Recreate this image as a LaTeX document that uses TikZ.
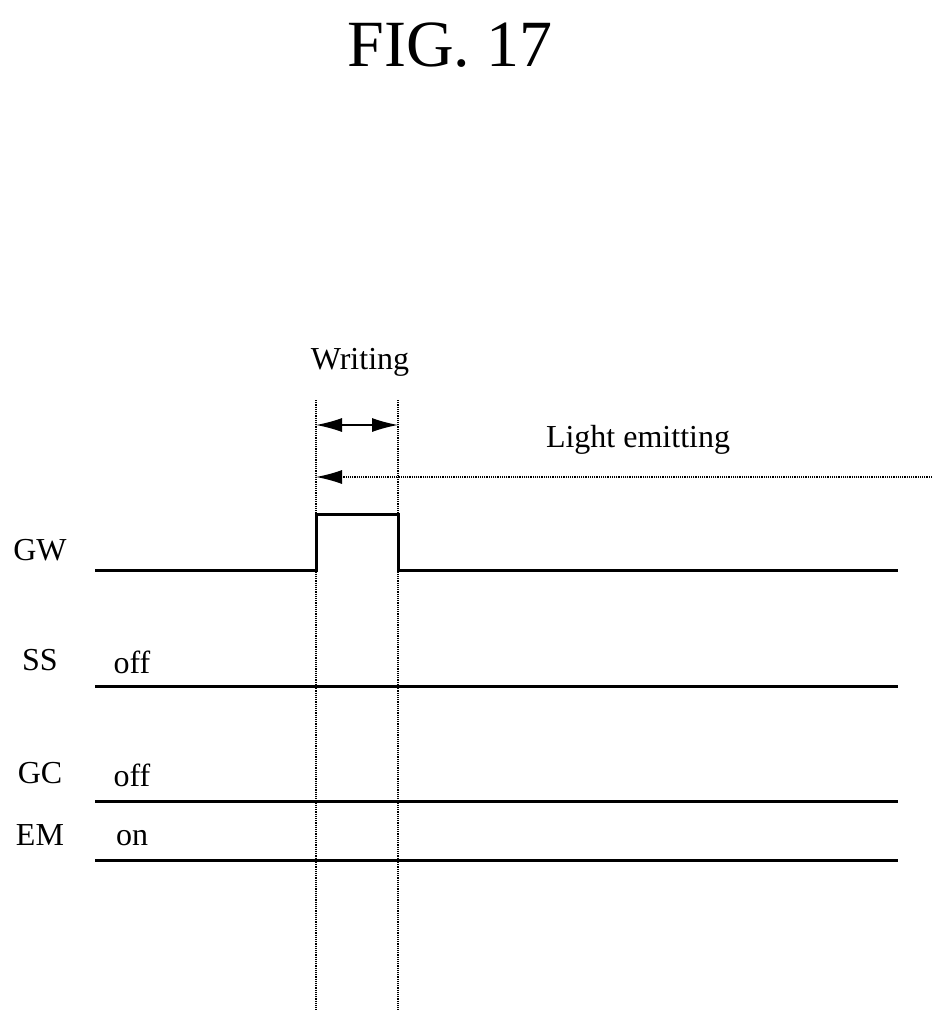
\documentclass[tikz,border=0pt]{standalone}
\usepackage{fontspec}
\setmainfont{Liberation Serif}
\usetikzlibrary{arrows.meta}
\begin{document}
\begin{tikzpicture}[x=1pt,y=-1pt,
  sig/.style={line width=3pt},
  guide/.style={densely dotted,line width=1.2pt},
  lbl/.style={font=\fontsize{32}{34}\selectfont,inner sep=0pt},
  arr/.style={-{Latex[length=26pt,width=14pt]}}]
\useasboundingbox (0,0) rectangle (952,1029);
\node[inner sep=0pt,font=\fontsize{66}{68}\selectfont] (title) at (450,45) {FIG. 17};
\coordinate (t1) at (316,400); \coordinate (b1) at (316,1010);
\coordinate (t2) at (398,400); \coordinate (b2) at (398,1010);
\draw[guide] (t1) -- (b1); \draw[guide] (t2) -- (b2);
\node[lbl] (wr) at (360,362) {Writing};
\coordinate (wm) at (357,425); \coordinate (wl) at (316,425); \coordinate (wr2) at (398,425);
\draw[arr,line width=1.2pt] (wm) -- (wl);
\draw[arr,line width=1.2pt] (wm) -- (wr2);
\node[lbl] (le) at (638,440) {Light emitting};
\coordinate (ls) at (932,477); \coordinate (le2) at (316,477);
\draw[arr,guide] (ls) -- (le2);
\node[lbl] (gw) at (40,550) {GW};
\draw[sig] (95,570) -- (316,570) -- (316,514) -- (398,514) -- (398,570) -- (898,570);
\node[lbl] (ss) at (40,660) {SS}; \node[lbl] (ssv) at (132,662) {off};
\draw[sig] (95,686) -- (898,686);
\node[lbl] (gc) at (40,773) {GC}; \node[lbl] (gcv) at (132,775) {off};
\draw[sig] (95,801) -- (898,801);
\node[lbl] (em) at (40,835) {EM}; \node[lbl] (emv) at (132,838) {on};
\draw[sig] (95,860) -- (898,860);
\end{tikzpicture}
\end{document}
